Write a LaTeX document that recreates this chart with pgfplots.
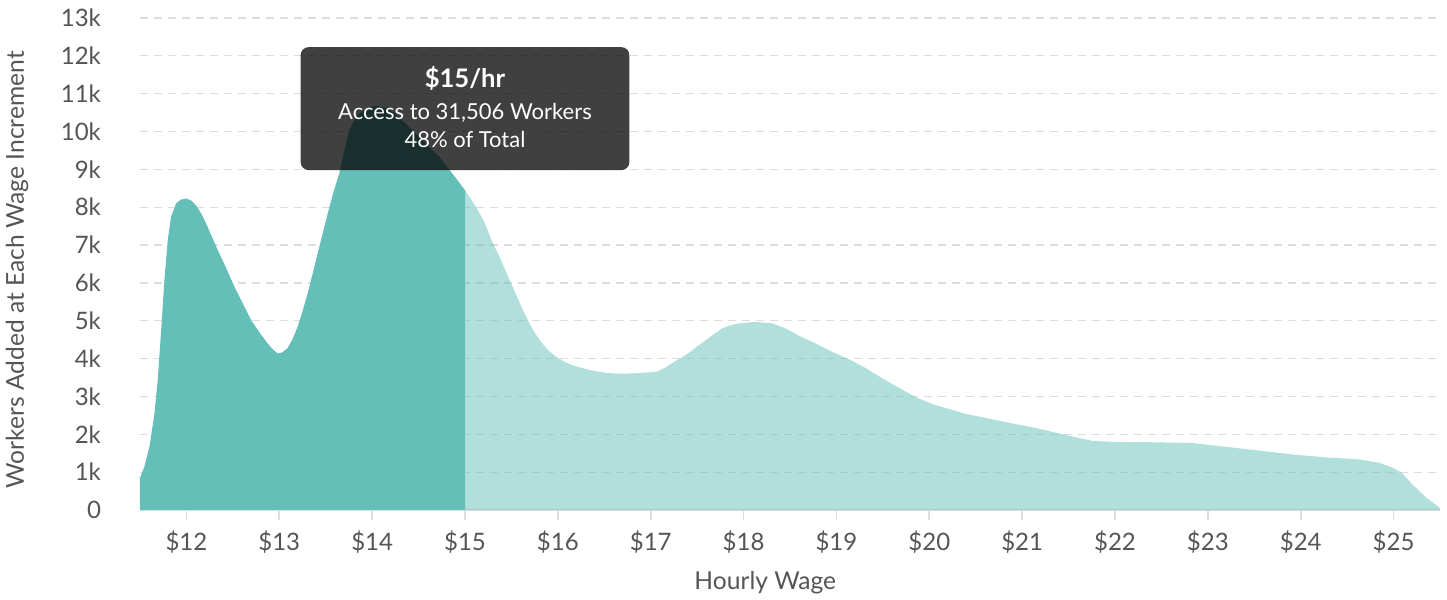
\documentclass[border=0pt]{standalone}
\usepackage{pgfplots}
\pgfplotsset{compat=1.18}
\usepackage{fontspec}
\setmainfont{Lato}
\definecolor{teal1}{RGB}{99,191,183}
\definecolor{txt}{RGB}{85,85,85}
\definecolor{gridc}{RGB}{221,221,221}
\begin{document}
\begin{tikzpicture}
\begin{axis}[
  at={(0,0)}, anchor=south west,
  scale only axis, width=650pt, height=246pt,
  xmin=11.5, xmax=25.5, ymin=0, ymax=13000,
  enlargelimits=false,
  axis x line*=bottom, axis y line*=left,
  x axis line style={-, draw=gridc, line width=0.8pt},
  y axis line style={draw=none},
  xtick={12,13,...,25},
  xticklabels={\$12,\$13,\$14,\$15,\$16,\$17,\$18,\$19,\$20,\$21,\$22,\$23,\$24,\$25},
  ytick={0,1000,...,13000},
  yticklabels={0,1k,2k,3k,4k,5k,6k,7k,8k,9k,10k,11k,12k,13k},
  scaled ticks=false,
  tick align=outside,
  x tick style={draw=gridc, line width=0.8pt},
  major tick length=5pt,
  y tick style={draw=none},
  ymajorgrids,
  grid style={draw=gridc, line width=0.6pt, dash pattern=on 4pt off 3pt},
  tick label style={font=\fontsize{12}{14}\selectfont, text=txt},
  yticklabel style={anchor=east, xshift=-11pt},
  xticklabel style={anchor=base, yshift=-15pt},
  xlabel={Hourly Wage}, ylabel={Workers Added at Each Wage Increment},
  every axis x label/.style={at={(axis description cs:0.481,-0.148)}, anchor=center, font=\fontsize{12.3}{14}\selectfont, text=txt},
  every axis y label/.style={at={(axis description cs:-0.0946,0.488)}, anchor=center, rotate=90, font=\fontsize{12.3}{14}\selectfont, text=txt},
  clip=false,
]
\addplot[fill=teal1, draw=none] table {
x y
11.5 850
11.548 1150
11.602 1670
11.656 2550
11.691 3430
11.728 4750
11.763 6070
11.799 7130
11.835 7750
11.889 8100
11.94 8200
12.0 8230
12.05 8180
12.104 8050
12.16 7830
12.212 7570
12.337 6870
12.43 6380
12.517 5900
12.61 5440
12.696 5020
12.79 4680
12.875 4400
12.94 4220
12.983 4140
13.03 4160
13.09 4280
13.14 4500
13.198 4840
13.25 5250
13.305 5720
13.36 6250
13.413 6780
13.47 7330
13.521 7830
13.58 8370
13.647 8900
13.70 9500
13.754 10040
13.81 10300
13.862 10480
13.95 10620
14.04 10680
14.13 10630
14.22 10520
14.29 10370
14.364 10200
14.45 10000
14.543 9770
14.63 9550
14.723 9330
14.81 9060
14.902 8770
15.0 8450
} \closedcycle;
\addplot[fill=teal1, fill opacity=0.5, draw=none] table {
x y
15.0 8450
15.12 8000
15.21 7600
15.29 7100
15.37 6700
15.44 6300
15.53 5800
15.62 5300
15.71 4850
15.80 4500
15.89 4230
15.98 4050
16.07 3920
16.15 3830
16.34 3700
16.52 3620
16.70 3600
16.88 3620
17.06 3650
17.15 3750
17.23 3880
17.32 4010
17.41 4150
17.50 4320
17.60 4500
17.69 4660
17.77 4800
17.86 4880
17.95 4930
18.13 4970
18.31 4930
18.40 4850
18.49 4750
18.597 4600
18.777 4400
18.955 4180
19.135 3980
19.315 3750
19.493 3480
19.673 3230
19.853 2980
20.032 2800
20.211 2670
20.391 2540
20.57 2450
20.749 2360
20.929 2270
21.104 2190
21.266 2100
21.40 2020
21.58 1920
21.75 1830
21.97 1800
22.40 1790
22.83 1770
23.19 1670
23.55 1570
23.90 1470
24.27 1390
24.62 1340
24.84 1250
24.98 1130
25.09 980
25.20 680
25.34 350
25.5 50
} \closedcycle;
\fill[black, opacity=0.75, rounded corners=4pt] (axis cs:13.23,12230) rectangle (axis cs:16.77,8980);
\node[text=white, font=\fontsize{12.8}{14}\bfseries] at (axis cs:15,11400) {\$15/hr};
\node[text=white, font=\fontsize{11}{13}\selectfont] at (axis cs:15,10490) {Access to 31,506 Workers};
\node[text=white, font=\fontsize{11}{13}\selectfont] at (axis cs:15,9800) {48\% of Total};
\end{axis}
\pgfresetboundingbox
\useasboundingbox (-70pt,-45pt) rectangle (653.5pt,255pt);
\end{tikzpicture}
\end{document}
